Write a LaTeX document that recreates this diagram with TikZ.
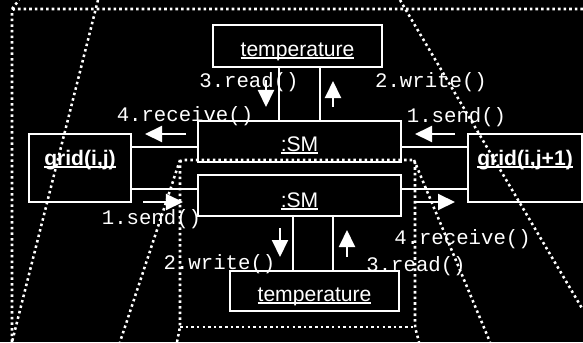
\documentclass[tikz,border=0pt]{standalone}
\usepackage{fontspec}
\usepackage{tikz}
\usetikzlibrary{arrows.meta,calc}
\newfontfamily\objfont{Liberation Sans}
\newfontfamily\msgfont{Liberation Mono}
% object names are underlined just under the baseline
\newcommand{\uname}[1]{\setbox0=\hbox{#1}\rlap{\rule[-0.15em]{\wd0}{0.11em}}\box0}

\begin{document}
\begin{tikzpicture}[x=0.025cm,y=-0.025cm,
  obj/.style={draw=white, line width=1.4pt, inner sep=0pt, text=white,
              font=\objfont\fontsize{15}{18}\selectfont},
  gridbox/.style={obj, font=\objfont\bfseries\fontsize{15}{18}\selectfont,
                  text height=0.775cm, text depth=0.925cm},
  msg/.style={-{Triangle[width=0.4cm,length=0.425cm]}, draw=white, line width=1.4pt},
  lbl/.style={text=white, inner sep=0pt, font=\msgfont\fontsize{14.7}{17}\selectfont},
  link/.style={draw=white, line width=1.4pt},
  dotframe/.style={draw=white, line width=1.8pt, dash pattern=on 1.8pt off 2.2pt}
]
\fill[black] (0,0) rectangle (583,342);
\useasboundingbox (0,0) rectangle (583,342);

% processor frames
\draw[dotframe, rounded corners=2pt] (583,9) -- (12,9) -- (12,342);
\draw[dotframe] (12,9) -- (19,0);
\draw[dotframe] (98,0) -- (12,342);
\draw[dotframe] (400,0) -- (583,310);
\draw[dotframe, rounded corners=2pt] (177,342) -- (180,327) -- (180,160) -- (415,160) -- (415,327) -- (419,342);
\draw[dotframe] (180,327) -- (415,327);
\draw[dotframe] (180,160) -- (120,342);
\draw[dotframe] (414,160) -- (490,342);

% objects
\node[obj, minimum width=4.225cm, text height=0.775cm, text depth=0.275cm] (tempA) at (297.5,46) {\uname{temperature}};
\node[obj, minimum width=5.075cm, text height=0.75cm, text depth=0.275cm] (smA) at (299.5,141.5) {\uname{:SM}};
\node[gridbox, minimum width=2.55cm] (gridA) at (80,168) {\uname{grid(i,j)}};
\node[gridbox, minimum width=2.85cm] (gridB) at (525,168) {\uname{grid(i,j+1)}};
\node[obj, minimum width=5.075cm, text height=0.8cm, text depth=0.225cm] (smB) at (299.5,195.5) {\uname{:SM}};
\node[obj, minimum width=4.225cm, text height=0.75cm, text depth=0.25cm] (tempB) at (314.5,291) {\uname{temperature}};

% links
\draw[link] ([xshift=-0.5125cm]smA.north) -- ([xshift=-0.5125cm]smA.north |- tempA.south);
\draw[link] ([xshift=0.5125cm]smA.north) -- ([xshift=0.5125cm]smA.north |- tempA.south);
\draw[link] ([yshift=-0.1375cm]smA.west) -- ([yshift=-0.1375cm]smA.west -| gridA.east);
\draw[link] ([yshift=-0.1375cm]smA.east) -- ([yshift=-0.1375cm]smA.east -| gridB.west);
\draw[link] ([yshift=0.1625cm]smB.west) -- ([yshift=0.1625cm]smB.west -| gridA.east);
\draw[link] ([yshift=0.1625cm]smB.east) -- ([yshift=0.1625cm]smB.east -| gridB.west);
\draw[link] ([xshift=-0.5375cm]tempB.north) -- ([xshift=-0.5375cm]tempB.north |- smB.south);
\draw[link] ([xshift=0.4625cm]tempB.north) -- ([xshift=0.4625cm]tempB.north |- smB.south);

% messages
\coordinate (readA-s)  at (266,80);  \coordinate (readA-t)  at (266,107);
\coordinate (writeA-s) at (333,107); \coordinate (writeA-t) at (333,81);
\coordinate (recvA-s)  at (186,134); \coordinate (recvA-t)  at (145,134);
\coordinate (sendA-s)  at (455,134); \coordinate (sendA-t)  at (415,134);
\coordinate (sendB-s)  at (143,202); \coordinate (sendB-t)  at (183,202);
\coordinate (recvB-s)  at (415,202); \coordinate (recvB-t)  at (455,202);
\coordinate (writeB-s) at (280,228); \coordinate (writeB-t) at (280,257);
\coordinate (readB-s)  at (347,257); \coordinate (readB-t)  at (347,230);

\draw[msg] (readA-s) -- (readA-t);
\draw[msg] (writeA-s) -- (writeA-t);
\draw[msg] (recvA-s) -- (recvA-t);
\draw[msg] (sendA-s) -- (sendA-t);
\draw[msg] (sendB-s) -- (sendB-t);
\draw[msg] (recvB-s) -- (recvB-t);
\draw[msg] (writeB-s) -- (writeB-t);
\draw[msg] (readB-s) -- (readB-t);

\node[lbl] (readAlbl)  at (249,82)    {3.read()};
\node[lbl] (writeAlbl) at (431,82)    {2.write()};
\node[lbl] (recvAlbl)  at (185,116)   {4.receive()};
\node[lbl] (sendAlbl)  at (456.5,117) {1.send()};
\node[lbl] (sendBlbl)  at (151.5,219) {1.send()};
\node[lbl] (recvBlbl)  at (462.5,239) {4.receive()};
\node[lbl] (writeBlbl) at (219.5,264) {2.write()};
\node[lbl] (readBlbl)  at (416,266)   {3.read()};
\end{tikzpicture}
\end{document}
